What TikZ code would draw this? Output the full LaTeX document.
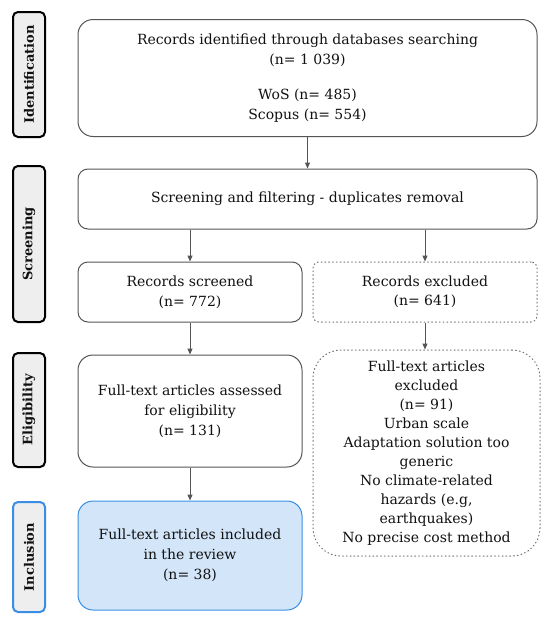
\documentclass[tikz,border=0pt]{standalone}
\usepackage{fontspec}
\setmainfont{DejaVu Serif}
\usetikzlibrary{arrows.meta}
\definecolor{boxline}{HTML}{555555}
\definecolor{arrowc}{HTML}{555555}
\definecolor{labelfill}{HTML}{EEEEEE}
\definecolor{blueline}{HTML}{3A8EE6}
\definecolor{bluefill}{HTML}{D3E5F8}
\definecolor{txt}{HTML}{111111}
\tikzset{
  mainbox/.style={draw=boxline, line width=1pt, rounded corners=#1, align=center, inner sep=0pt,
    font=\fontsize{14}{20}\selectfont, text=txt},
  mainbox/.default=10pt,
  dotbox/.style={draw=boxline!85, line width=1pt, dash pattern=on 0.9pt off 2.9pt, line cap=round,
    rounded corners=#1, align=center, inner sep=0pt, font=\fontsize{14}{19}\selectfont, text=txt},
  dotbox/.default=10pt,
  phase/.style={draw=black, line width=2pt, fill=labelfill, rounded corners=5pt, rotate=90,
    minimum height=32pt, inner sep=0pt, font=\bfseries\fontsize{13}{15}\selectfont, text=txt},
  flow/.style={draw=arrowc, line width=1pt, -{Triangle[length=6pt,width=5pt]}},
}
\begin{document}
\begin{tikzpicture}[x=1pt,y=-1pt]
\useasboundingbox[fill=white] (0,0) rectangle (550,624);
% phase labels
\node[phase, minimum width=125pt] (L1) at (29,74.5) {Identification};
\node[phase, minimum width=156pt] (L2) at (29,244) {Screening};
\node[phase, minimum width=114pt] (L3) at (29,410) {Eligibility};
\node[phase, minimum width=110pt, draw=blueline] (L4) at (29,557) {Inclusion};
% main boxes
\node[mainbox=15pt, minimum width=459pt, minimum height=117pt] (ident) at (307.5,78)
  {Records identified through databases searching\\(n= 1 039)\\[15pt]WoS (n= 485)\\Scopus (n= 554)};
\node[mainbox, minimum width=459pt, minimum height=60pt] (screen) at (307.5,199)
  {Screening and filtering - duplicates removal};
\node[mainbox, minimum width=224pt, minimum height=60pt] (recscr) at (190,292)
  {Records screened\\(n= 772)};
\node[dotbox=6pt, minimum width=224pt, minimum height=60pt] (recexc) at (425,292)
  {Records excluded\\(n= 641)};
\node[mainbox=15pt, minimum width=224pt, minimum height=112pt] (assess) at (190,411)
  {Full-text articles assessed\\for eligibility\\(n= 131)};
\node[dotbox=28pt, minimum width=227pt, minimum height=206pt] (ftexc) at (426.5,453)
  {Full-text articles\\excluded\\(n= 91)\\Urban scale\\Adaptation solution too\\generic\\No climate-related\\hazards (e.g,\\earthquakes)\\No precise cost method};
\node[mainbox=15pt, draw=blueline, fill=bluefill, minimum width=224pt, minimum height=109pt] (incl) at (190,555.5)
  {Full-text articles included\\in the review\\(n= 38)};
% connectors
\draw[flow] (ident.south) -- (screen.north);
\draw[flow] (recscr.north |- screen.south) -- (recscr.north);
\draw[flow] (recexc.north |- screen.south) -- (recexc.north);
\draw[flow] (recscr.south) -- (assess.north);
\draw[flow] (recexc.south) -- (recexc.south |- ftexc.north);
\draw[flow] (assess.south) -- (incl.north);
\end{tikzpicture}
\end{document}
